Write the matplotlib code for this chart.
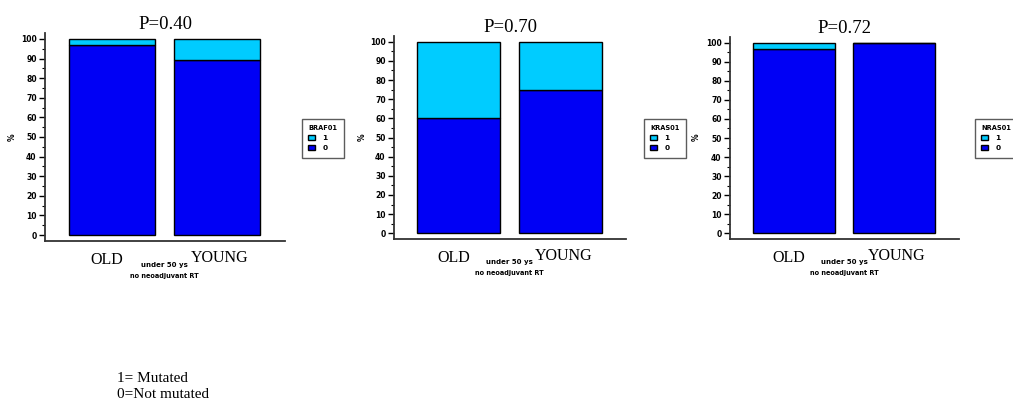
import matplotlib.pyplot as plt
from matplotlib.patches import Patch
from matplotlib.ticker import MultipleLocator

# data (percent of patients)
groups = ['OLD', 'YOUNG']
genes = ['BRAF01', 'KRAS01', 'NRAS01']
p_values = ['P=0.40', 'P=0.70', 'P=0.72']
not_mutated = [[97, 89], [60, 75], [96.5, 100]]
mutated = [[3, 11], [40, 25], [3.5, 0]]

dark_blue = '#0000f5'
light_blue = '#00ccff'

fig = plt.figure(figsize=(10.13, 4), dpi=100)
W, H = 1013, 400

# panel boxes in pixels: left, width, y of top (103), y of bottom (-3)
boxes = [(45, 240, 33, 241), (394, 232, 36, 239), (730, 229, 37, 239)]
legend_x = [298, 640, 971]
ylabel_x = [12, 362, 696]

for i in range(3):
    l, w, t, b = boxes[i]
    ax = fig.add_axes([l / W, 1 - b / H, w / W, (b - t) / H])
    x = [0, 1]
    ax.bar(x, not_mutated[i], width=0.82, color=dark_blue, edgecolor='black', linewidth=1)
    ax.bar(x, mutated[i], width=0.82, bottom=not_mutated[i], color=light_blue,
           edgecolor='black', linewidth=1)
    ax.set_xlim(-0.64, 1.65)
    ax.set_ylim(-3, 103)
    ax.spines['top'].set_visible(False)
    ax.spines['right'].set_visible(False)
    ax.spines['left'].set_color('#333333')
    ax.spines['bottom'].set_color('#333333')
    ax.spines['left'].set_linewidth(1.3)
    ax.spines['bottom'].set_linewidth(1.3)
    ax.set_yticks(range(0, 101, 10))
    ax.yaxis.set_minor_locator(MultipleLocator(5))
    ax.tick_params(axis='y', which='major', length=4, width=1, labelsize=5.5, pad=2)
    ax.tick_params(axis='y', which='minor', length=2, width=0.8)
    for lab in ax.get_yticklabels():
        lab.set_fontweight('bold')
    ax.set_xticks([])
    ax.set_title(p_values[i], fontsize=13.5, family='Liberation Serif', pad=3)

    # group names and caption under the axis
    ax.text(-0.05, -0.055, groups[0], transform=ax.get_xaxis_transform(), ha='center',
            va='top', fontsize=11.5, family='Liberation Serif')
    ax.text(1.03, -0.045, groups[1], transform=ax.get_xaxis_transform(), ha='center',
            va='top', fontsize=11.5, family='Liberation Serif')
    ax.text(0.5, -0.1, 'under 50 ys', transform=ax.get_xaxis_transform(), ha='center',
            va='top', fontsize=5, fontweight='bold')
    ax.text(0.5, -0.155, 'no neoadjuvant RT', transform=ax.get_xaxis_transform(), ha='center',
            va='top', fontsize=4.7, fontweight='bold')

    fig.text(ylabel_x[i] / W, 1 - 137 / H, '%', rotation=90, fontsize=5.5,
             fontweight='bold', ha='center', va='center')

    handles = [Patch(facecolor=light_blue, edgecolor='black', label='1'),
               Patch(facecolor=dark_blue, edgecolor='black', label='0')]
    leg = fig.legend(handles=handles, title=genes[i], loc='upper left',
                     bbox_to_anchor=(legend_x[i] / W, 1 - 115 / H), fontsize=5.3,
                     title_fontsize=4.8, frameon=True, fancybox=False, edgecolor='#333333',
                     handlelength=0.9, handleheight=0.75, handletextpad=1.0,
                     borderpad=0.9, labelspacing=0.5, alignment='left')
    leg.get_title().set_fontweight('bold')
    for t_ in leg.get_texts():
        t_.set_fontweight('bold')
    leg.get_frame().set_linewidth(1)

fig.text(117 / W, 1 - 378 / H, '1= Mutated', fontsize=11, family='Liberation Serif', va='center')
fig.text(117 / W, 1 - 395 / H, '0=Not mutated', fontsize=11, family='Liberation Serif', va='center')

fig.savefig('out.png', dpi=100)
